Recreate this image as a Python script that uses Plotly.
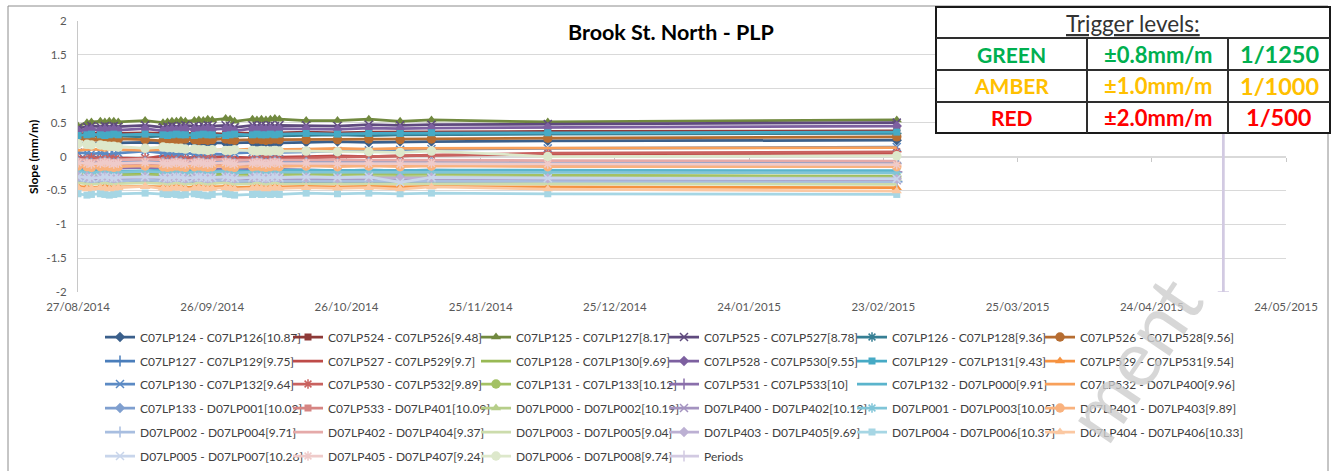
import plotly.graph_objects as go

# ---------------------------------------------------------------- data
DATES = [
    "2014-08-27", "2014-08-29", "2014-08-30", "2014-09-01", "2014-09-02", "2014-09-03", "2014-09-04", "2014-09-05",
    "2014-09-11",
    "2014-09-15", "2014-09-16", "2014-09-17", "2014-09-18", "2014-09-19", "2014-09-20", "2014-09-22",
    "2014-09-23", "2014-09-24", "2014-09-25", "2014-09-26", "2014-09-29", "2014-09-30", "2014-10-01",
    "2014-10-05", "2014-10-06", "2014-10-07", "2014-10-08", "2014-10-09", "2014-10-10", "2014-10-11",
    "2014-10-17", "2014-10-24", "2014-10-31", "2014-11-07", "2014-11-14",
    "2014-12-10", "2015-02-26",
]

s_c07lp124 = [0.19, 0.20, 0.19, 0.20, 0.21, 0.20, 0.19, 0.20, 0.21, 0.20, 0.19, 0.20, 0.21, 0.20, 0.19, 0.20, 0.21, 0.20, 0.20, 0.19, 0.20, 0.21, 0.20, 0.21, 0.20, 0.20, 0.21, 0.20, 0.21, 0.20, 0.21, 0.22, 0.21, 0.22, 0.22, 0.23, 0.24]
s_c07lp524 = [0.33, 0.34, 0.35, 0.34, 0.33, 0.34, 0.35, 0.34, 0.35, 0.34, 0.33, 0.34, 0.35, 0.34, 0.34, 0.33, 0.34, 0.35, 0.34, 0.34, 0.33, 0.34, 0.35, 0.34, 0.35, 0.34, 0.34, 0.35, 0.34, 0.35, 0.36, 0.35, 0.36, 0.36, 0.37, 0.37, 0.38]
s_c07lp125 = [0.45, 0.50, 0.51, 0.52, 0.51, 0.52, 0.52, 0.51, 0.53, 0.50, 0.51, 0.52, 0.52, 0.53, 0.52, 0.53, 0.54, 0.53, 0.55, 0.54, 0.56, 0.55, 0.52, 0.55, 0.54, 0.55, 0.54, 0.55, 0.56, 0.55, 0.53, 0.53, 0.55, 0.52, 0.54, 0.51, 0.54]
s_c07lp525 = [0.42, 0.44, 0.45, 0.44, 0.45, 0.44, 0.45, 0.44, 0.46, 0.43, 0.44, 0.45, 0.44, 0.45, 0.46, 0.45, 0.44, 0.45, 0.46, 0.45, 0.46, 0.45, 0.43, 0.46, 0.45, 0.46, 0.45, 0.46, 0.45, 0.46, 0.46, 0.45, 0.47, 0.46, 0.47, 0.48, 0.50]
s_c07lp126 = [0.29, 0.30, 0.31, 0.30, 0.29, 0.30, 0.31, 0.30, 0.29, 0.30, 0.31, 0.30, 0.29, 0.30, 0.31, 0.30, 0.30, 0.31, 0.30, 0.29, 0.30, 0.31, 0.30, 0.31, 0.30, 0.31, 0.30, 0.30, 0.31, 0.30, 0.31, 0.32, 0.31, 0.32, 0.32, 0.33, 0.34]
s_c07lp526 = [0.27, 0.26, 0.25, 0.26, 0.25, 0.24, 0.25, 0.26, 0.25, 0.23, 0.24, 0.25, 0.24, 0.25, 0.26, 0.25, 0.24, 0.25, 0.24, 0.25, 0.26, 0.25, 0.24, 0.25, 0.26, 0.25, 0.24, 0.25, 0.26, 0.25, 0.25, 0.25, 0.26, 0.25, 0.26, 0.27, 0.29]
s_c07lp127 = [-0.37, -0.38, -0.37, -0.38, -0.39, -0.38, -0.37, -0.38, -0.37, -0.38, -0.39, -0.38, -0.37, -0.38, -0.38, -0.39, -0.38, -0.37, -0.38, -0.39, -0.38, -0.37, -0.38, -0.37, -0.38, -0.38, -0.39, -0.38, -0.37, -0.38, -0.37, -0.37, -0.36, -0.37, -0.36, -0.37, -0.37]
s_c07lp527 = [-0.01, -0.02, 0.00, -0.02, -0.03, -0.02, -0.01, -0.02, -0.03, 0.01, 0.02, 0.00, -0.01, 0.00, -0.02, -0.01, 0.00, -0.02, -0.03, -0.01, 0.00, -0.02, -0.01, -0.02, -0.01, 0.00, -0.02, -0.01, -0.02, -0.01, 0.00, 0.01, 0.00, 0.01, 0.02, 0.03, 0.05]
s_c07lp128 = [-0.24, -0.25, -0.26, -0.25, -0.24, -0.25, -0.26, -0.25, -0.24, -0.25, -0.26, -0.25, -0.24, -0.25, -0.25, -0.26, -0.25, -0.24, -0.25, -0.26, -0.25, -0.24, -0.25, -0.26, -0.25, -0.24, -0.25, -0.26, -0.25, -0.24, -0.26, -0.27, -0.26, -0.27, -0.27, -0.28, -0.29]
s_c07lp528 = [0.38, 0.39, 0.40, 0.39, 0.40, 0.39, 0.40, 0.39, 0.41, 0.38, 0.39, 0.40, 0.39, 0.40, 0.41, 0.40, 0.39, 0.40, 0.41, 0.40, 0.41, 0.40, 0.38, 0.41, 0.40, 0.41, 0.40, 0.41, 0.40, 0.41, 0.41, 0.40, 0.42, 0.41, 0.42, 0.43, 0.45]
s_c07lp129 = [0.31, 0.32, 0.33, 0.32, 0.31, 0.32, 0.33, 0.32, 0.33, 0.32, 0.31, 0.32, 0.33, 0.32, 0.32, 0.31, 0.32, 0.33, 0.32, 0.32, 0.31, 0.32, 0.33, 0.32, 0.33, 0.32, 0.32, 0.33, 0.32, 0.33, 0.34, 0.33, 0.34, 0.34, 0.35, 0.35, 0.36]
s_c07lp529 = [-0.44, -0.45, -0.46, -0.45, -0.44, -0.45, -0.46, -0.45, -0.44, -0.45, -0.46, -0.45, -0.44, -0.45, -0.46, -0.45, -0.44, -0.45, -0.46, -0.45, -0.44, -0.45, -0.46, -0.45, -0.44, -0.45, -0.46, -0.45, -0.44, -0.45, -0.44, -0.45, -0.44, -0.45, -0.44, -0.45, -0.46]
s_c07lp130 = [0.06, 0.05, 0.04, 0.05, 0.04, 0.03, 0.04, 0.05, 0.08, 0.06, 0.05, 0.04, 0.03, 0.04, 0.05, 0.04, 0.03, 0.02, 0.03, 0.04, 0.03, 0.04, 0.05, 0.06, 0.05, 0.04, 0.05, 0.06, 0.05, 0.06, 0.07, 0.08, 0.09, 0.10, 0.11, 0.12, 0.14]
s_c07lp530 = [-0.03, -0.04, -0.02, -0.04, -0.05, -0.03, -0.04, -0.05, -0.02, -0.06, -0.05, -0.04, -0.05, -0.06, -0.04, -0.05, -0.06, -0.04, -0.05, -0.03, -0.04, -0.05, -0.06, -0.04, -0.05, -0.04, -0.03, -0.04, -0.05, -0.04, -0.02, -0.01, 0.00, 0.01, 0.02, 0.05, 0.07]
s_c07lp131 = [-0.18, -0.20, -0.22, -0.24, -0.25, -0.26, -0.27, -0.27, -0.28, -0.27, -0.28, -0.29, -0.28, -0.27, -0.28, -0.29, -0.28, -0.27, -0.28, -0.29, -0.28, -0.27, -0.28, -0.29, -0.28, -0.27, -0.28, -0.29, -0.28, -0.27, -0.26, -0.27, -0.26, -0.27, -0.26, -0.28, -0.30]
s_c07lp531 = [-0.16, -0.17, -0.18, -0.17, -0.16, -0.17, -0.18, -0.17, -0.16, -0.17, -0.18, -0.19, -0.18, -0.17, -0.18, -0.19, -0.18, -0.17, -0.18, -0.19, -0.18, -0.17, -0.18, -0.19, -0.18, -0.17, -0.18, -0.19, -0.20, -0.19, -0.20, -0.21, -0.20, -0.21, -0.20, -0.22, -0.23]
s_c07lp132 = [-0.21, -0.20, -0.21, -0.22, -0.21, -0.20, -0.21, -0.22, -0.21, -0.20, -0.21, -0.22, -0.21, -0.20, -0.21, -0.22, -0.21, -0.20, -0.21, -0.22, -0.21, -0.20, -0.21, -0.22, -0.21, -0.20, -0.21, -0.22, -0.21, -0.20, -0.20, -0.21, -0.20, -0.21, -0.20, -0.20, -0.21]
s_c07lp532 = [0.09, 0.10, 0.11, 0.10, 0.09, 0.10, 0.11, 0.10, 0.09, 0.10, 0.11, 0.10, 0.09, 0.10, 0.11, 0.10, 0.10, 0.11, 0.10, 0.09, 0.10, 0.11, 0.10, 0.11, 0.10, 0.11, 0.10, 0.10, 0.11, 0.10, 0.11, 0.12, 0.11, 0.12, 0.12, 0.13, 0.13]
s_c07lp133 = [-0.07, -0.08, -0.09, -0.08, -0.07, -0.08, -0.09, -0.08, -0.07, -0.08, -0.09, -0.08, -0.07, -0.08, -0.09, -0.08, -0.07, -0.08, -0.09, -0.08, -0.07, -0.08, -0.09, -0.08, -0.07, -0.08, -0.09, -0.08, -0.07, -0.08, -0.08, -0.09, -0.08, -0.09, -0.08, -0.09, -0.10]
s_c07lp533 = [-0.11, -0.12, -0.13, -0.12, -0.11, -0.12, -0.13, -0.12, -0.13, -0.12, -0.11, -0.12, -0.13, -0.12, -0.11, -0.12, -0.13, -0.12, -0.11, -0.12, -0.13, -0.12, -0.11, -0.12, -0.13, -0.12, -0.11, -0.12, -0.13, -0.12, -0.12, -0.13, -0.12, -0.13, -0.12, -0.13, -0.13]
s_d07lp000 = [-0.31, -0.30, -0.29, -0.30, -0.31, -0.30, -0.29, -0.30, -0.31, -0.30, -0.29, -0.30, -0.31, -0.30, -0.29, -0.30, -0.31, -0.30, -0.29, -0.30, -0.31, -0.30, -0.29, -0.30, -0.31, -0.30, -0.29, -0.30, -0.31, -0.30, -0.29, -0.30, -0.29, -0.30, -0.29, -0.31, -0.32]
s_d07lp400 = [-0.32, -0.33, -0.34, -0.33, -0.32, -0.33, -0.34, -0.33, -0.32, -0.33, -0.34, -0.33, -0.32, -0.33, -0.34, -0.33, -0.32, -0.33, -0.34, -0.35, -0.34, -0.33, -0.32, -0.33, -0.34, -0.33, -0.32, -0.33, -0.34, -0.33, -0.33, -0.34, -0.33, -0.34, -0.33, -0.34, -0.35]
s_d07lp001 = [-0.22, -0.23, -0.24, -0.23, -0.22, -0.23, -0.24, -0.23, -0.22, -0.23, -0.24, -0.23, -0.22, -0.23, -0.24, -0.23, -0.22, -0.23, -0.24, -0.23, -0.22, -0.23, -0.24, -0.23, -0.22, -0.23, -0.24, -0.23, -0.22, -0.23, -0.23, -0.24, -0.23, -0.24, -0.23, -0.24, -0.24]
s_d07lp401 = [-0.14, -0.15, -0.16, -0.15, -0.14, -0.15, -0.16, -0.15, -0.14, -0.15, -0.16, -0.15, -0.14, -0.15, -0.16, -0.15, -0.14, -0.15, -0.16, -0.15, -0.14, -0.15, -0.16, -0.15, -0.14, -0.15, -0.16, -0.15, -0.14, -0.15, -0.14, -0.15, -0.14, -0.15, -0.14, -0.15, -0.15]
s_d07lp002 = [-0.35, -0.36, -0.37, -0.36, -0.35, -0.36, -0.37, -0.36, -0.35, -0.36, -0.37, -0.36, -0.35, -0.36, -0.37, -0.36, -0.35, -0.36, -0.37, -0.36, -0.35, -0.36, -0.37, -0.36, -0.35, -0.36, -0.37, -0.36, -0.35, -0.36, -0.36, -0.37, -0.36, -0.37, -0.36, -0.37, -0.38]
s_d07lp402 = [-0.04, -0.05, -0.06, -0.05, -0.04, -0.05, -0.06, -0.05, -0.04, -0.05, -0.06, -0.05, -0.04, -0.05, -0.06, -0.05, -0.04, -0.05, -0.06, -0.05, -0.04, -0.05, -0.06, -0.05, -0.04, -0.05, -0.06, -0.05, -0.04, -0.05, -0.05, -0.06, -0.05, -0.06, -0.05, -0.06, -0.07]
s_d07lp003 = [-0.39, -0.40, -0.41, -0.40, -0.39, -0.40, -0.41, -0.40, -0.39, -0.40, -0.41, -0.40, -0.39, -0.40, -0.41, -0.40, -0.39, -0.40, -0.41, -0.40, -0.39, -0.40, -0.41, -0.40, -0.39, -0.40, -0.41, -0.40, -0.39, -0.40, -0.40, -0.41, -0.40, -0.41, -0.40, -0.41, -0.41]
s_d07lp403 = [-0.29, -0.30, -0.31, -0.30, -0.29, -0.31, -0.32, -0.31, -0.30, -0.31, -0.32, -0.31, -0.30, -0.31, -0.32, -0.31, -0.30, -0.31, -0.32, -0.31, -0.30, -0.31, -0.32, -0.31, -0.30, -0.31, -0.32, -0.31, -0.30, -0.31, -0.31, -0.32, -0.31, -0.32, -0.31, -0.32, -0.33]
s_d07lp004 = [-0.55, -0.57, -0.56, -0.55, -0.56, -0.57, -0.56, -0.55, -0.54, -0.55, -0.56, -0.55, -0.56, -0.57, -0.56, -0.55, -0.56, -0.57, -0.58, -0.56, -0.55, -0.56, -0.57, -0.56, -0.55, -0.56, -0.55, -0.56, -0.55, -0.56, -0.54, -0.55, -0.54, -0.55, -0.54, -0.55, -0.56]
s_d07lp404 = [-0.46, -0.48, -0.47, -0.46, -0.47, -0.48, -0.47, -0.46, -0.44, -0.47, -0.48, -0.47, -0.46, -0.47, -0.48, -0.47, -0.46, -0.47, -0.48, -0.47, -0.46, -0.47, -0.48, -0.47, -0.46, -0.47, -0.48, -0.47, -0.46, -0.47, -0.46, -0.47, -0.46, -0.48, -0.45, -0.48, -0.51]
s_d07lp005 = [-0.30, -0.31, -0.32, -0.31, -0.30, -0.31, -0.32, -0.31, -0.30, -0.31, -0.32, -0.31, -0.30, -0.31, -0.32, -0.31, -0.30, -0.31, -0.32, -0.31, -0.30, -0.31, -0.32, -0.31, -0.30, -0.31, -0.32, -0.31, -0.30, -0.31, -0.30, -0.31, -0.30, -0.38, -0.31, -0.32, -0.33]
s_d07lp405 = [-0.09, -0.10, -0.11, -0.10, -0.09, -0.10, -0.11, -0.10, -0.09, -0.10, -0.11, -0.10, -0.09, -0.10, -0.11, -0.10, -0.09, -0.10, -0.11, -0.10, -0.09, -0.10, -0.11, -0.10, -0.09, -0.10, -0.11, -0.10, -0.09, -0.10, -0.10, -0.11, -0.10, -0.11, -0.10, -0.11, -0.12]
s_d07lp006 = [0.19, 0.18, 0.17, 0.17, 0.16, 0.15, 0.15, 0.14, 0.12, 0.14, 0.13, 0.13, 0.12, 0.12, 0.11, 0.11, 0.10, 0.10, 0.09, 0.10, 0.09, 0.09, 0.10, 0.09, 0.08, 0.09, 0.08, 0.08, 0.09, 0.08, 0.08, 0.07, 0.07, 0.06, 0.08, 0.00, 0.01]

# the "Periods" marker: a vertical line spanning the full slope range
PERIOD_DATES = ["2015-05-10", "2015-05-10"]
PERIOD_SLOPES = [-2, 2]

SERIES_NAMES = [
    "C07LP124 - C07LP126[10.87]", "C07LP524 - C07LP526[9.48]", "C07LP125 - C07LP127[8.17]",
    "C07LP525 - C07LP527[8.78]", "C07LP126 - C07LP128[9.36]", "C07LP526 - C07LP528[9.56]",
    "C07LP127 - C07LP129[9.75]", "C07LP527 - C07LP529[9.7]", "C07LP128 - C07LP130[9.69]",
    "C07LP528 - C07LP530[9.55]", "C07LP129 - C07LP131[9.43]", "C07LP529 - C07LP531[9.54]",
    "C07LP130 - C07LP132[9.64]", "C07LP530 - C07LP532[9.89]", "C07LP131 - C07LP133[10.12]",
    "C07LP531 - C07LP533[10]", "C07LP132 - D07LP000[9.91]", "C07LP532 - D07LP400[9.96]",
    "C07LP133 - D07LP001[10.02]", "C07LP533 - D07LP401[10.09]", "D07LP000 - D07LP002[10.19]",
    "D07LP400 - D07LP402[10.12]", "D07LP001 - D07LP003[10.05]", "D07LP401 - D07LP403[9.89]",
    "D07LP002 - D07LP004[9.71]", "D07LP402 - D07LP404[9.37]", "D07LP003 - D07LP005[9.04]",
    "D07LP403 - D07LP405[9.69]", "D07LP004 - D07LP006[10.37]", "D07LP404 - D07LP406[10.33]",
    "D07LP005 - D07LP007[10.26]", "D07LP405 - D07LP407[9.24]", "D07LP006 - D07LP008[9.74]",
]
SERIES_VALUES = [
    s_c07lp124, s_c07lp524, s_c07lp125, s_c07lp525, s_c07lp126, s_c07lp526,
    s_c07lp127, s_c07lp527, s_c07lp128, s_c07lp528, s_c07lp129, s_c07lp529,
    s_c07lp130, s_c07lp530, s_c07lp131, s_c07lp531, s_c07lp132, s_c07lp532,
    s_c07lp133, s_c07lp533, s_d07lp000, s_d07lp400, s_d07lp001, s_d07lp401,
    s_d07lp002, s_d07lp402, s_d07lp003, s_d07lp403, s_d07lp004, s_d07lp404,
    s_d07lp005, s_d07lp405, s_d07lp006,
]

X_RANGE = ["2014-08-27", "2015-05-24"]
X_TICKS = ["2014-08-27", "2014-09-26", "2014-10-26", "2014-11-25", "2014-12-25",
           "2015-01-24", "2015-02-23", "2015-03-25", "2015-04-24", "2015-05-24"]
Y_TICKS = [-2, -1.5, -1, -0.5, 0, 0.5, 1, 1.5, 2]
Y_TICK_LABELS = ["-2", "-1.5", "-1", "-0.5", "0", "0.5", "1", "1.5", "2"]

TRIGGER_ROWS = [
    ("GREEN", "±0.8mm/m", "1/1250", "#00B050"),
    ("AMBER", "±1.0mm/m", "1/1000", "#FFC000"),
    ("RED", "±2.0mm/m", "1/500", "#FF0000"),
]

# ---------------------------------------------------------------- styling
FONT = "Lato"
W, H = 1333, 471
ML, MR, MT, MB = 78, 47, 21, 179
PW, PH = W - ML - MR, H - MT - MB


def fx(px):
    """pixel column -> paper x"""
    return (px - ML) / PW


def fy(py):
    """pixel row -> paper y"""
    return 1 - (py - MT) / PH


# colour shades per hue, darkest first (one shade per legend row)
BLUE = ["#3A5F8B", "#4A7EBB", "#5B8AC4", "#7F9FCF", "#A8BEE0", "#C8D5EB"]
RED = ["#8E3A38", "#BE4B48", "#C9625F", "#D68583", "#E5AAA9", "#EFCBCA"]
GREEN = ["#71893F", "#98B954", "#A3C164", "#B6CE89", "#CCDCAC", "#DDE8CB"]
PURPLE = ["#5F4A7E", "#7D60A0", "#8A6FAB", "#A493C0", "#BCB0D3", "#D2CAE2"]
TEAL = ["#367F94", "#46AAC5", "#5AB4CC", "#80C5D8", "#A6D6E4", "#C6E5EE"]
ORANGE = ["#B66D31", "#F69240", "#F8A05A", "#F9B27E", "#FBC8A2", "#FCDCC4"]
HUES = [BLUE, RED, GREEN, PURPLE, TEAL, ORANGE]

# marker cycle: diamond, square, triangle, x, star, circle, plus, dash, dash
MARKERS = [("diamond", 8), ("square", 7), ("triangle-up", 9), ("x-thin-open", 8),
           ("asterisk-open", 8), ("circle", 9.5), ("cross-thin-open", 8), (None, 0), (None, 0)]

N_COLS = 6
ENTRY_W = 143


def legend_key(i):
    row = i // N_COLS
    return "legend" if row == 0 else f"legend{row + 1}"


def make_trace(i, name, x, y):
    color = HUES[i % 6][i // 6]
    symbol, size = MARKERS[i % 9]
    kw = dict(x=x, y=y, name=name, legend=legend_key(i),
              line=dict(color=color, width=2.75), hoverinfo="x+y+name")
    if i % N_COLS == N_COLS - 1:
        # last column: leave room so the label is not clipped at the legend edge
        kw["legendwidth"] = 170
    if symbol is None:
        kw["mode"] = "lines"
    else:
        kw["mode"] = "lines+markers"
        kw["marker"] = dict(symbol=symbol, size=size, color=color,
                            line=dict(color=color, width=1.5 if symbol.endswith("open") else 0))
    return go.Scatter(**kw)


fig = go.Figure()
for i, (name, vals) in enumerate(zip(SERIES_NAMES, SERIES_VALUES)):
    fig.add_trace(make_trace(i, name, DATES, vals))
fig.add_trace(make_trace(len(SERIES_NAMES), "Periods", PERIOD_DATES, PERIOD_SLOPES))
# carrier for the horizontal axis drawn through slope = 0
fig.add_trace(go.Scatter(x=[], y=[], xaxis="x2", showlegend=False, hoverinfo="skip"))

tick_font = dict(family=FONT, size=11.5, color="#595959")

layout = dict(
    width=W, height=H,
    margin=dict(l=ML, r=MR, t=MT, b=MB, autoexpand=False),
    paper_bgcolor="white", plot_bgcolor="white",
    showlegend=True,
    xaxis=dict(type="date", range=X_RANGE, tickvals=X_TICKS, tickformat="%d/%m/%Y",
               showgrid=False, zeroline=False, showline=False, ticks="",
               tickfont=tick_font, ticklabelstandoff=6),
    xaxis2=dict(type="date", overlaying="x", anchor="free", position=0.5, range=X_RANGE,
                tickvals=X_TICKS, ticks="outside", ticklen=4, tickcolor="#C8C8C8",
                showticklabels=False, showgrid=False, zeroline=False,
                showline=True, linecolor="#D9D9D9", linewidth=1, layer="below traces"),
    yaxis=dict(range=[-2, 2], tickvals=Y_TICKS, ticktext=Y_TICK_LABELS,
               showgrid=True, gridcolor="#D9D9D9", gridwidth=1, zeroline=False,
               showline=True, linecolor="#C8C8C8", linewidth=1, ticks="",
               tickfont=tick_font, ticklabelstandoff=8, layer="below traces"),
)

# one horizontal legend per row of six entries
ROW_CENTERS = [337, 361, 384, 408, 432, 456]
for r, yc in enumerate(ROW_CENTERS):
    key = "legend" if r == 0 else f"legend{r + 1}"
    layout[key] = dict(orientation="h", x=fx(100), xanchor="left", y=fy(yc - 14.5), yanchor="top",
                       entrywidth=ENTRY_W, entrywidthmode="pixels", itemwidth=30,
                       font=dict(family=FONT, size=12, color="#404040"),
                       bgcolor="rgba(0,0,0,0)", borderwidth=0, traceorder="normal")

fig.update_layout(**layout)

# chart area frame
shapes = [dict(type="rect", xref="paper", yref="paper", x0=fx(8), x1=fx(1328), y0=fy(490), y1=fy(6),
               line=dict(color="#8C8C8C", width=1), fillcolor="rgba(0,0,0,0)", layer="above")]

# trigger-level table
TX0, TX1, TY0, TY1 = 936, 1330, 7, 133
COL_X = [1087, 1228]
ROW_Y = [38, 70, 102]
shapes.append(dict(type="rect", xref="paper", yref="paper", x0=fx(TX0), x1=fx(TX1), y0=fy(TY1), y1=fy(TY0),
                   line=dict(color="#1A1A1A", width=2), fillcolor="white", layer="above"))
for yy in ROW_Y:
    shapes.append(dict(type="line", xref="paper", yref="paper", x0=fx(TX0), x1=fx(TX1), y0=fy(yy), y1=fy(yy),
                       line=dict(color="#2E2E2E", width=2), layer="above"))
for xx in COL_X:
    shapes.append(dict(type="line", xref="paper", yref="paper", x0=fx(xx), x1=fx(xx), y0=fy(ROW_Y[0]), y1=fy(TY1),
                       line=dict(color="#2E2E2E", width=2), layer="above"))
fig.update_layout(shapes=shapes)

annotations = [
    dict(text="<b>Brook St. North - PLP</b>", x=fx(671), y=fy(32), xref="paper", yref="paper",
         showarrow=False, xanchor="center", yanchor="middle",
         font=dict(family=FONT, size=21.5, color="#000000")),
    dict(text="<b>Slope (mm/m)</b>", x=fx(33), y=fy(157), xref="paper", yref="paper", textangle=-90,
         showarrow=False, xanchor="center", yanchor="middle",
         font=dict(family=FONT, size=12, color="#000000")),
    dict(text="<u>Trigger levels:</u>", x=fx((TX0 + TX1) / 2), y=fy(23), xref="paper", yref="paper",
         showarrow=False, xanchor="center", yanchor="middle",
         font=dict(family=FONT, size=22.5, color="#333333")),
]
col_centers = [(TX0 + COL_X[0]) / 2, (COL_X[0] + COL_X[1]) / 2, (COL_X[1] + TX1) / 2]
col_sizes = [21, 22, 23.5]
row_centers = [(ROW_Y[0] + ROW_Y[1]) / 2, (ROW_Y[1] + ROW_Y[2]) / 2, (ROW_Y[2] + TY1) / 2]
for (label, slope, ratio, color), yc in zip(TRIGGER_ROWS, row_centers):
    for txt, xc, fs in zip((label, slope, ratio), col_centers, col_sizes):
        annotations.append(dict(text=f"<b>{txt}</b>", x=fx(xc), y=fy(yc), xref="paper", yref="paper",
                                showarrow=False, xanchor="center", yanchor="middle",
                                font=dict(family=FONT, size=fs, color=color)))
# faint diagonal watermark
annotations.append(dict(text="ment", x=fx(1132), y=fy(358), xref="paper", yref="paper",
                        showarrow=False, textangle=-56, xanchor="center", yanchor="middle",
                        font=dict(family=FONT, size=78, color="rgba(205,205,205,0.8)")))
fig.update_layout(annotations=annotations)

fig.write_html("out.html")
